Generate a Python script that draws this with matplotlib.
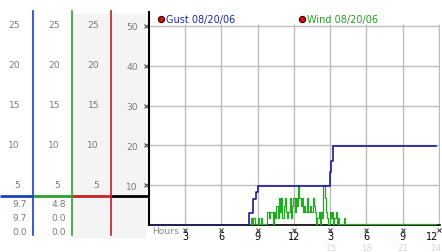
import numpy as np
import matplotlib
matplotlib.use('Agg')
import matplotlib.pyplot as plt
from matplotlib.patches import Rectangle
from matplotlib.transforms import blended_transform_factory

# data
gust_hours = [0, 8.3, 8.65, 8.85, 9.05, 14.95, 15.05, 15.2, 23.8]
gust_mph = [0, 3.1, 6.5, 8.3, 9.7, 13.4, 16.2, 19.8, 19.8]

wind_start = 8.4
wind_step = 0.1
wind_mph = [0, 1.4, 0, 1.4, 0, 0, 0, 1.4, 0, 1.4,
            0, 0, 0, 0, 3.1, 3.1, 1.4, 3.1, 3.1, 0,
            3.1, 1.4, 4.4, 1.4, 6.5, 3.1, 6.5, 1.4, 4.4, 6.5,
            3.1, 1.4, 3.1, 6.5, 1.4, 4.4, 6.5, 3.1, 6.5, 4.4,
            9.7, 6.5, 4.4, 6.5, 3.1, 4.4, 3.1, 6.5, 3.1, 3.1,
            4.4, 3.1, 6.5, 4.4, 3.1, 0, 1.4, 3.1, 0, 3.1,
            1.4, 9.7, 6.5, 3.1, 1.4, 0, 3.1, 1.4, 3.1, 0,
            1.4, 3.1, 0, 1.4, 0, 0, 0, 0, 1.4, 0]

gauge_ticks = [5, 10, 15, 20, 25]
main_ticks = [10, 20, 30, 40, 50]
hour_ticks = [3, 6, 9, 12, 15, 18, 21, 24]
hour_labels = ['3', '6', '9', '12', '3', '6', '9', '12']
day2_ticks = [15, 18, 21, 24]
day2_labels = ['15', '18', '21', '24']
gust_readout = ['9.7', '9.7', '0.0']
wind_readout = ['4.8', '0.0', '0.0']

W, H = 442, 253
GRAY_TXT = '#7a7a7a'
FS = 6.6


def fbox(x0, y0, x1, y1):
    return [x0 / W, 1 - y1 / H, (x1 - x0) / W, (y1 - y0) / H]


def pixel_axes(z):
    c = fig.add_axes([0, 0, 1, 1], zorder=z)
    c.set_xlim(0, W)
    c.set_ylim(H, 0)
    c.axis('off')
    c.patch.set_alpha(0)
    return c


fig = plt.figure(figsize=(W / 100, H / 100), dpi=100)

# background canvas in pixel units
cv = pixel_axes(0)
cv.add_patch(Rectangle((72, 15), 74, 225, color='#f4f4f4', lw=0))

# gauge columns
columns = [(0, 33, '#1a3fc4', 20), (33, 72, '#2ea02e', 27), (72, 111, '#b82222', 27)]
for x0, x1, col, lx in columns:
    g = fig.add_axes(fbox(x0, 12, x1, 236), zorder=1)
    g.set_xlim(0, x1 - x0)
    g.set_ylim(-1.25, 26.75)
    g.patch.set_alpha(0)
    for s in ['left', 'top', 'bottom']:
        g.spines[s].set_visible(False)
    g.spines['right'].set_color(col)
    g.spines['right'].set_linewidth(1.2)
    g.set_xticks([])
    g.set_yticks([])
    for v in gauge_ticks:
        g.text(lx, v, str(v), ha='right', va='center', fontsize=FS, color=GRAY_TXT)

# divider line of the gauges
cv.hlines(197, 0, 33, color='#1a3fc4', lw=2)
cv.hlines(197, 33, 72, color='#2ea02e', lw=2)
cv.hlines(197, 72, 111, color='#cc2222', lw=2)
cv.hlines(197, 111, 149, color='black', lw=2)

for i, (a, b) in enumerate(zip(gust_readout, wind_readout)):
    cv.text(27, 205 + 14 * i, a, ha='right', va='center', fontsize=FS, color=GRAY_TXT)
    cv.text(66, 205 + 14 * i, b, ha='right', va='center', fontsize=FS, color=GRAY_TXT)

# main chart
ax = fig.add_axes(fbox(149, 13, 440, 226), zorder=2)
ax.set_xlim(0, 24.1)
ax.set_ylim(0, 53.5)
ax.patch.set_facecolor('white')
ax.spines['top'].set_visible(False)
ax.spines['right'].set_visible(False)
ax.spines['left'].set_linewidth(1.5)
ax.spines['bottom'].set_linewidth(1.2)

ax.hlines(main_ticks, 0, 24.1, color='#bdbdbd', lw=1, zorder=1)
ax.vlines(hour_ticks, 0, 50.6, color='#bdbdbd', lw=1, zorder=1)

wind_hours = wind_start + wind_step * np.arange(len(wind_mph))
wind_hours = np.append(wind_hours, 23.8)
wind_vals = np.append(wind_mph, 0)
ax.plot(wind_hours, wind_vals + 0.25, color='#22aa22', lw=0.9, drawstyle='steps-mid', zorder=3)
ax.plot(gust_hours, gust_mph, color='#1a1a9a', lw=1.2, drawstyle='steps-post', zorder=4)

ax.set_yticks(main_ticks)
ax.set_yticklabels([str(v) for v in main_ticks], fontsize=FS, color=GRAY_TXT)
ax.tick_params(axis='y', length=0, pad=8)
ax.set_xticks(hour_ticks)
ax.set_xticklabels(hour_labels, fontsize=7, color='black')
ax.tick_params(axis='x', length=0, pad=4.5)
ax.get_xticklabels()[-1].set_ha('right')

# small tick glyphs
ytr = blended_transform_factory(ax.transAxes, ax.transData)
ax.plot([-3 / 291] * len(main_ticks), main_ticks, 'x', ms=2.5, mew=0.7, color='#333333',
        transform=ytr, clip_on=False)
xtr = ax.get_xaxis_transform()
ax.plot(hour_ticks, [-5 / 213] * len(hour_ticks), 'x', ms=2.5, mew=0.7, color='#333333',
        transform=xtr, clip_on=False)

for t, lab in zip(day2_ticks, day2_labels):
    ha = 'right' if t == day2_ticks[-1] else 'center'
    xt = t + 0.2 if t == day2_ticks[-1] else t
    ax.text(xt, -22.5 / 213, lab, transform=xtr, ha=ha, va='center', fontsize=6.3,
            color='#d6d6d6', clip_on=False)
ax.text(0.3, -6 / 213, 'Hours', transform=xtr, ha='left', va='center', fontsize=FS,
        color='#8a8a8a', clip_on=False)

# legend on top
top = pixel_axes(3)
top.plot([161], [20], 'o', ms=4.5, color='#cc1111', mec='#440000', mew=0.8)
top.text(166, 20, 'Gust 08/20/06', ha='left', va='center', fontsize=7, color='#1a2a9a')
top.plot([302], [20], 'o', ms=4.5, color='#cc1111', mec='#440000', mew=0.8)
top.text(307, 20, 'Wind 08/20/06', ha='left', va='center', fontsize=7, color='#22a022')

fig.savefig('out.png', dpi=100)
